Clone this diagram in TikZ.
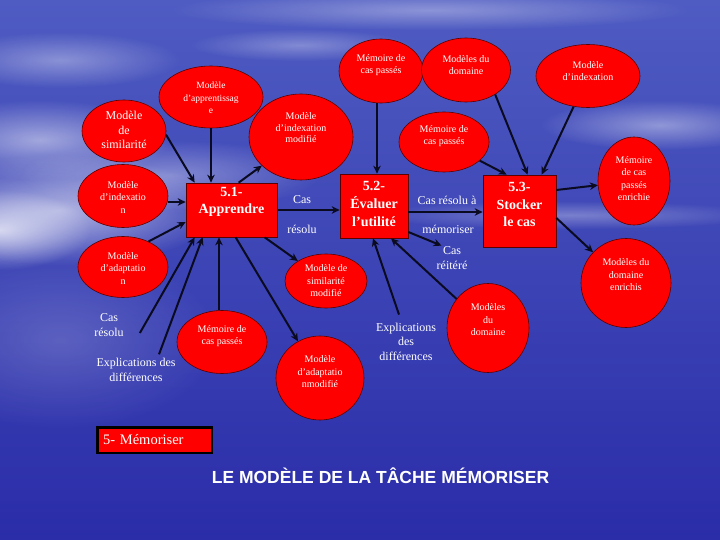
\documentclass[tikz,border=0pt]{standalone}
\usepackage{fontspec}
\setmainfont{Liberation Serif}
\newfontfamily\titlefont{Liberation Sans}
\usetikzlibrary{shapes.geometric,arrows.meta,fadings}
\tikzfading[name=softfade, inner color=transparent!0, outer color=transparent!100]
\definecolor{redfill}{HTML}{FF0000}
\definecolor{edgecol}{HTML}{5A0000}
\definecolor{skytop}{HTML}{4F5CC2}
\definecolor{skymid}{HTML}{5660C6}
\definecolor{seabot}{HTML}{2A2CA8}
\definecolor{arrcol}{HTML}{0A0A20}
\begin{document}
\begin{tikzpicture}[x=1pt,y=-1pt,
  ell/.style={ellipse, draw=edgecol, line width=0.6pt, fill=redfill, inner sep=0pt},
  box/.style={rectangle, draw=edgecol, line width=0.7pt, fill=redfill, inner sep=0pt},
  wtxt/.style={text=white, align=center, inner sep=0pt},
  fa/.style={font=\fontsize{10}{12.5}\selectfont},
  fb/.style={font=\fontsize{12}{14.5}\selectfont},
  fbox/.style={font=\bfseries\fontsize{14}{17.7}\selectfont},
  arr/.style={draw=arrcol, line width=2pt, -{Stealth[length=8pt,width=7.5pt]}},
  cloud/.style={fill=white, path fading=softfade}
]
\useasboundingbox (0,0) rectangle (720,540);
% background
\shade[top color=skytop, middle color=skymid, bottom color=seabot] (0,0) rectangle (720,540);
\fill[cloud, opacity=.6] (60,210) ellipse (160 and 55);
\fill[cloud, opacity=.7] (0,230) ellipse (90 and 40);
\fill[cloud, opacity=.5] (40,140) ellipse (130 and 40);
\fill[cloud, opacity=.35] (170,175) ellipse (150 and 35);
\fill[cloud, opacity=.35] (60,60) ellipse (120 and 28);
\fill[cloud, opacity=.35] (430,10) ellipse (260 and 20);
\fill[cloud, opacity=.3] (300,45) ellipse (110 and 16);
\fill[cloud, opacity=.4] (660,125) ellipse (120 and 25);
\fill[cloud, opacity=.3] (570,215) ellipse (200 and 14);
\fill[cloud, opacity=.18] (60,340) ellipse (160 and 90);

% ellipses
\node[ell, minimum width=84pt, minimum height=62pt] (simil) at (124,131) {};
\node[wtxt, font=\fontsize{12}{14.5}\selectfont] at (124,130) {Modèle\\de\\similarité};
\node[ell, minimum width=104pt, minimum height=62pt] (apprent) at (211,97) {};
\node[wtxt, font=\fontsize{9.5}{12.5}\selectfont] at (211,98) {Modèle\\d’apprentissag\\e};
\node[ell, minimum width=104pt, minimum height=86pt] (indexmod) at (301,137) {};
\node[wtxt, font=\fontsize{10}{11.5}\selectfont] at (301,128) {Modèle\\d’indexation\\modifié};
\node[ell, minimum width=90pt, minimum height=63pt] (indexL) at (123,196) {};
\node[wtxt, fa] at (123,197.5) {Modèle\\d’indexatio\\n};
\node[ell, minimum width=90pt, minimum height=61pt] (adaptL) at (123,267) {};
\node[wtxt, fa] at (123,268.5) {Modèle\\d’adaptatio\\n};
\node[ell, minimum width=90pt, minimum height=63pt] (memBL) at (222,342) {};
\node[wtxt, fa] at (222,336) {Mémoire de\\cas passés};
\node[ell, minimum width=82pt, minimum height=54pt] (simmod) at (326,281) {};
\node[wtxt, fa] at (326,281) {Modèle de\\similarité\\modifié};
\node[ell, minimum width=88pt, minimum height=84pt] (adaptmod) at (320,378) {};
\node[wtxt, fa] at (320,372) {Modèle\\d’adaptatio\\nmodifié};
\node[ell, minimum width=84pt, minimum height=64pt] (memTop) at (381,71) {};
\node[wtxt, fa] at (381,65) {Mémoire de\\cas passés};
\node[ell, minimum width=89pt, minimum height=64pt] (domTop) at (466,70) {};
\node[wtxt, fa] at (466,65) {Modèles du\\domaine};
\node[ell, minimum width=104pt, minimum height=63pt] (indexTR) at (588,76) {};
\node[wtxt, fa] at (588,71) {Modèle\\d’indexation};
\node[ell, minimum width=90pt, minimum height=60pt] (memMid) at (444,142) {};
\node[wtxt, fa] at (444,136) {Mémoire de\\cas passés};
\node[ell, minimum width=72pt, minimum height=88pt] (memEnr) at (634,181) {};
\node[wtxt, fa] at (634,178.5) {Mémoire\\de cas\\passés\\enrichie};
\node[ell, minimum width=90pt, minimum height=89pt] (domEnr) at (626,283) {};
\node[wtxt, fa] at (626,275) {Modèles du\\domaine\\enrichis};
\node[ell, minimum width=82pt, minimum height=89pt] (domBot) at (488,328) {};
\node[wtxt, fa] at (488,320) {Modèles\\du\\domaine};

% boxes
\node[box, minimum width=91pt, minimum height=54pt] (b51) at (231.5,210) {};
\node[wtxt, fbox] at (231.5,202) {5.1-\\Apprendre};
\node[box, minimum width=68pt, minimum height=64pt] (b52) at (374,206) {};
\node[wtxt, fbox] at (374,204) {5.2-\\Évaluer\\l’utilité};
\node[box, minimum width=73pt, minimum height=72pt] (b53) at (519.5,211) {};
\node[wtxt, fbox] at (519.5,204.5) {5.3-\\Stocker\\le cas};

% free texts
\node[wtxt, fb] (casA) at (302,200) {Cas};
\node[wtxt, fb] (casB) at (302,229) {résolu};
\node[wtxt, fb] (casRa) at (447,200) {Cas résolu à};
\node[wtxt, fb] (memor) at (448,229) {mémoriser};
\node[wtxt, font=\fontsize{12}{14.3}\selectfont] (casRei) at (452,258) {Cas\\réitéré};
\node[wtxt, fb] (explM) at (406,341.5) {Explications\\des\\différences};
\node[wtxt, fb] (casL) at (109,325) {Cas\\résolu};
\node[wtxt, fb] (explL) at (136,370) {Explications des\\différences};

% arrows
\draw[arr] (simil.-5) -- ([xshift=9pt]b51.north west);
\draw[arr] (apprent.south) -- (apprent.south |- b51.north);
\draw[arr] ([xshift=53pt]b51.north west) -- (indexmod);
\draw[arr] ([yshift=-6pt]indexL.east) -- ([yshift=-6pt]indexL.east -| b51.west);
\draw[arr] (adaptL.45) -- ([yshift=-12pt]b51.west);
\draw[arr] (b51.east) -- (b51.east -| b52.west);
\draw[arr] ([xshift=16pt,yshift=-8pt]casL.east) -- ([xshift=9pt]b51.south west);
\draw[arr] ([xshift=23pt,yshift=4pt]explL.north) -- ([xshift=17pt]b51.south west);
\draw[arr] ([xshift=-3pt]memBL.north) -- ([xshift=-3pt]memBL.north |- b51.south);
\draw[arr] ([xshift=50pt]b51.south west) -- (adaptmod);
\draw[arr] ([xshift=79pt]b51.south west) -- (simmod);
\draw[arr] ([xshift=-4pt]memTop.south) -- ([xshift=-4pt]memTop.south |- b52.north);
\draw[arr] ([yshift=-6pt]b52.east) -- ([yshift=-6pt]b52.east -| b53.west);
\draw[arr] ([yshift=-26pt]b52.east) -- ([xshift=5pt,yshift=1pt]casRei.north west);
\draw[arr] ([xshift=-7pt,yshift=8pt]explM.north) -- ([xshift=-1pt]b52.south);
\draw[arr] (domBot) -- ([xshift=17pt]b52.south);
\draw[arr] (memMid) -- ([xshift=24pt]b53.north west);
\draw[arr] (domTop.-40) -- ([xshift=45pt]b53.north west);
\draw[arr] (indexTR) -- ([xshift=59pt]b53.north west);
\draw[arr] ([yshift=21pt]b53.east) -- (memEnr);
\draw[arr] ([yshift=-7pt]b53.east) -- (domEnr);

% footer
\node[draw=black, line width=2.5pt, fill=redfill, minimum width=114.5pt, minimum height=25.5pt,
      text width=103pt, inner xsep=5pt, inner ysep=0pt, align=left, text=white,
      font=\fontsize{14.5}{17}\selectfont] (memo) at (154.5,440) {5- Mémoriser};
\node[text=white, inner sep=0pt, font=\titlefont\bfseries\fontsize{17.5}{20}\selectfont] (title) at (380.5,476) {LE MODÈLE DE LA TÂCHE MÉMORISER};
\end{tikzpicture}
\end{document}
